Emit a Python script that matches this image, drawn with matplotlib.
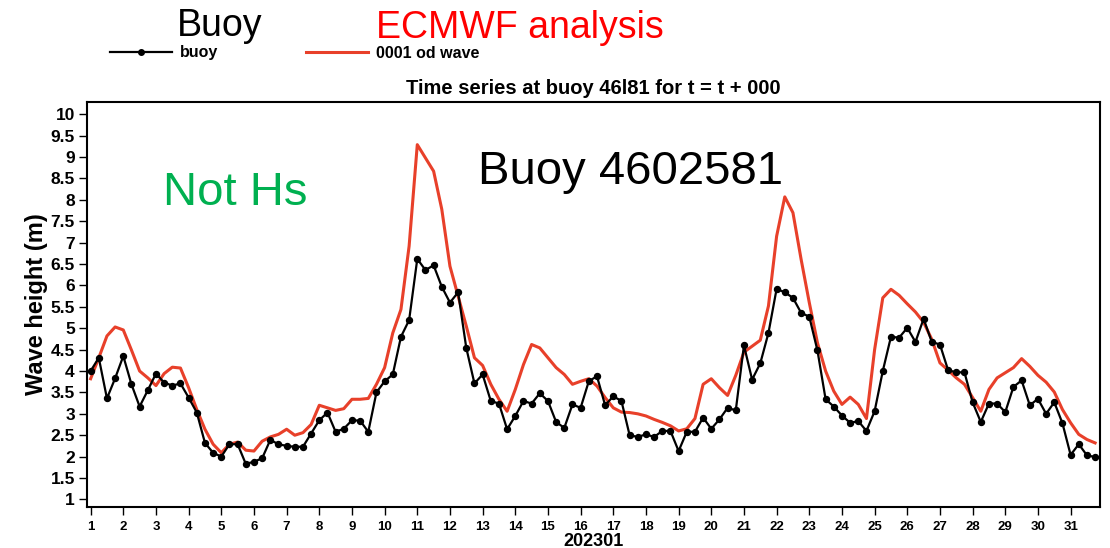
import matplotlib
matplotlib.use('Agg')

import matplotlib.pyplot as plt
import numpy as np
from matplotlib.lines import Line2D

plt.rcParams['font.family'] = ['Liberation Sans', 'DejaVu Sans']

# 6-hourly values, January 2023
buoy = [4.00, 4.31, 3.36, 3.83, 4.35, 3.69, 3.17, 3.55, 3.94, 3.73, 3.66, 3.71,
        3.38, 3.03, 2.32, 2.09, 2.00, 2.29, 2.29, 1.83, 1.88, 1.96, 2.39, 2.29,
        2.25, 2.23, 2.23, 2.54, 2.85, 3.03, 2.58, 2.65, 2.85, 2.84, 2.58, 3.50,
        3.76, 3.92, 4.80, 5.19, 6.62, 6.36, 6.47, 5.97, 5.60, 5.84, 4.54, 3.71,
        3.92, 3.30, 3.24, 2.64, 2.95, 3.30, 3.24, 3.48, 3.30, 2.81, 2.67, 3.22,
        3.14, 3.76, 3.88, 3.20, 3.41, 3.30, 2.50, 2.46, 2.52, 2.46, 2.60, 2.60,
        2.13, 2.58, 2.58, 2.91, 2.65, 2.87, 3.14, 3.08, 4.60, 3.80, 4.18, 4.89,
        5.92, 5.84, 5.71, 5.36, 5.27, 4.48, 3.34, 3.17, 2.96, 2.79, 2.83, 2.60,
        3.06, 4.00, 4.80, 4.78, 5.01, 4.68, 5.22, 4.68, 4.62, 4.02, 3.97, 3.97,
        3.27, 2.81, 3.24, 3.24, 3.04, 3.63, 3.78, 3.20, 3.35, 3.00, 3.27, 2.78,
        2.04, 2.29, 2.03, 1.99]

ecmwf = [3.82, 4.31, 4.82, 5.03, 4.96, 4.49, 4.00, 3.84, 3.66, 3.94, 4.09, 4.07,
         3.61, 3.10, 2.64, 2.29, 2.09, 2.29, 2.34, 2.15, 2.13, 2.36, 2.46, 2.52,
         2.64, 2.50, 2.56, 2.75, 3.20, 3.14, 3.08, 3.12, 3.34, 3.34, 3.36, 3.69,
         4.08, 4.89, 5.44, 6.92, 9.29, 8.98, 8.67, 7.78, 6.45, 5.75, 5.05, 4.31,
         4.13, 3.69, 3.34, 3.06, 3.57, 4.15, 4.62, 4.54, 4.31, 4.08, 3.92, 3.69,
         3.76, 3.82, 3.65, 3.38, 3.14, 3.04, 3.03, 3.00, 2.95, 2.87, 2.80, 2.72,
         2.60, 2.65, 2.89, 3.69, 3.82, 3.61, 3.43, 3.90, 4.44, 4.58, 4.72, 5.52,
         7.15, 8.07, 7.70, 6.61, 5.60, 4.66, 4.00, 3.53, 3.22, 3.39, 3.22, 2.89,
         4.50, 5.71, 5.91, 5.77, 5.57, 5.38, 5.14, 4.74, 4.19, 4.02, 3.84, 3.69,
         3.38, 3.06, 3.57, 3.84, 3.96, 4.08, 4.29, 4.11, 3.90, 3.74, 3.51, 3.10,
         2.79, 2.52, 2.40, 2.32]

days = 1 + np.arange(len(buoy)) / 4.0
day_ticks = list(range(1, 32))
height_ticks = [1, 1.5, 2, 2.5, 3, 3.5, 4, 4.5, 5, 5.5, 6, 6.5, 7, 7.5, 8, 8.5, 9, 9.5, 10]

red = '#e8402a'

fig = plt.figure(figsize=(11.1, 5.48), dpi=100)
ax = fig.add_axes([0.0787, 0.0754, 0.9123, 0.7379])

ax.plot(days, ecmwf, color=red, lw=2.2, zorder=2)
ax.plot(days, buoy, color='black', lw=1.6, marker='o', ms=4.3, zorder=3)

ax.set_xlim(0.9, 31.9)
ax.set_ylim(0.83, 10.28)
ax.set_xticks(day_ticks)
ax.set_xticklabels([str(d) for d in day_ticks], fontsize=9.5, fontweight='bold')
ax.set_yticks(height_ticks)
ax.set_yticklabels([('%g' % v) for v in height_ticks], fontsize=12.5, fontweight='bold')
ax.tick_params(direction='out', length=6, width=1, pad=3)
ax.tick_params(axis='x', pad=4)
for s in ax.spines.values():
    s.set_linewidth(1.5)

ax.set_ylabel('Wave height (m)', fontsize=17, fontweight='bold', labelpad=2)
ax.set_xlabel('202301', fontsize=13, fontweight='bold', labelpad=0)
ax.set_title('Time series at buoy 46l81 for t = t + 000', fontsize=14.5,
             fontweight='bold', pad=6)

# annotations inside the plot
ax.text(0.146, 0.745, 'Not Hs', transform=ax.transAxes, color='#00b050',
        fontsize=34, ha='center', va='baseline')
ax.text(0.536, 0.797, 'Buoy 4602581', transform=ax.transAxes, color='black',
        fontsize=34, ha='center', va='baseline')

# headings and legend above the plot
fig.text(220 / 1110, 1 - 36 / 548, 'Buoy', fontsize=27, color='black',
         ha='center', va='baseline')
fig.text(520 / 1110, 1 - 38 / 548, 'ECMWF analysis', fontsize=27, color='#ff0000',
         ha='center', va='baseline')

h_buoy = Line2D([], [], color='black', lw=1.6, marker='o', ms=4)
h_ec = Line2D([], [], color=red, lw=2.2)
fig.legend([h_buoy], ['buoy'], loc='center left', bbox_to_anchor=(110 / 1110, 1 - 53 / 548),
           frameon=False, handlelength=3.9, handletextpad=0.5, borderpad=0,
           borderaxespad=0, prop={'size': 11.5, 'weight': 'bold'})
fig.legend([h_ec], ['0001 od wave'], loc='center left', bbox_to_anchor=(306 / 1110, 1 - 53 / 548),
           frameon=False, handlelength=3.9, handletextpad=0.5, borderpad=0,
           borderaxespad=0, prop={'size': 11.5, 'weight': 'bold'})

fig.savefig('out.png', dpi=100)
